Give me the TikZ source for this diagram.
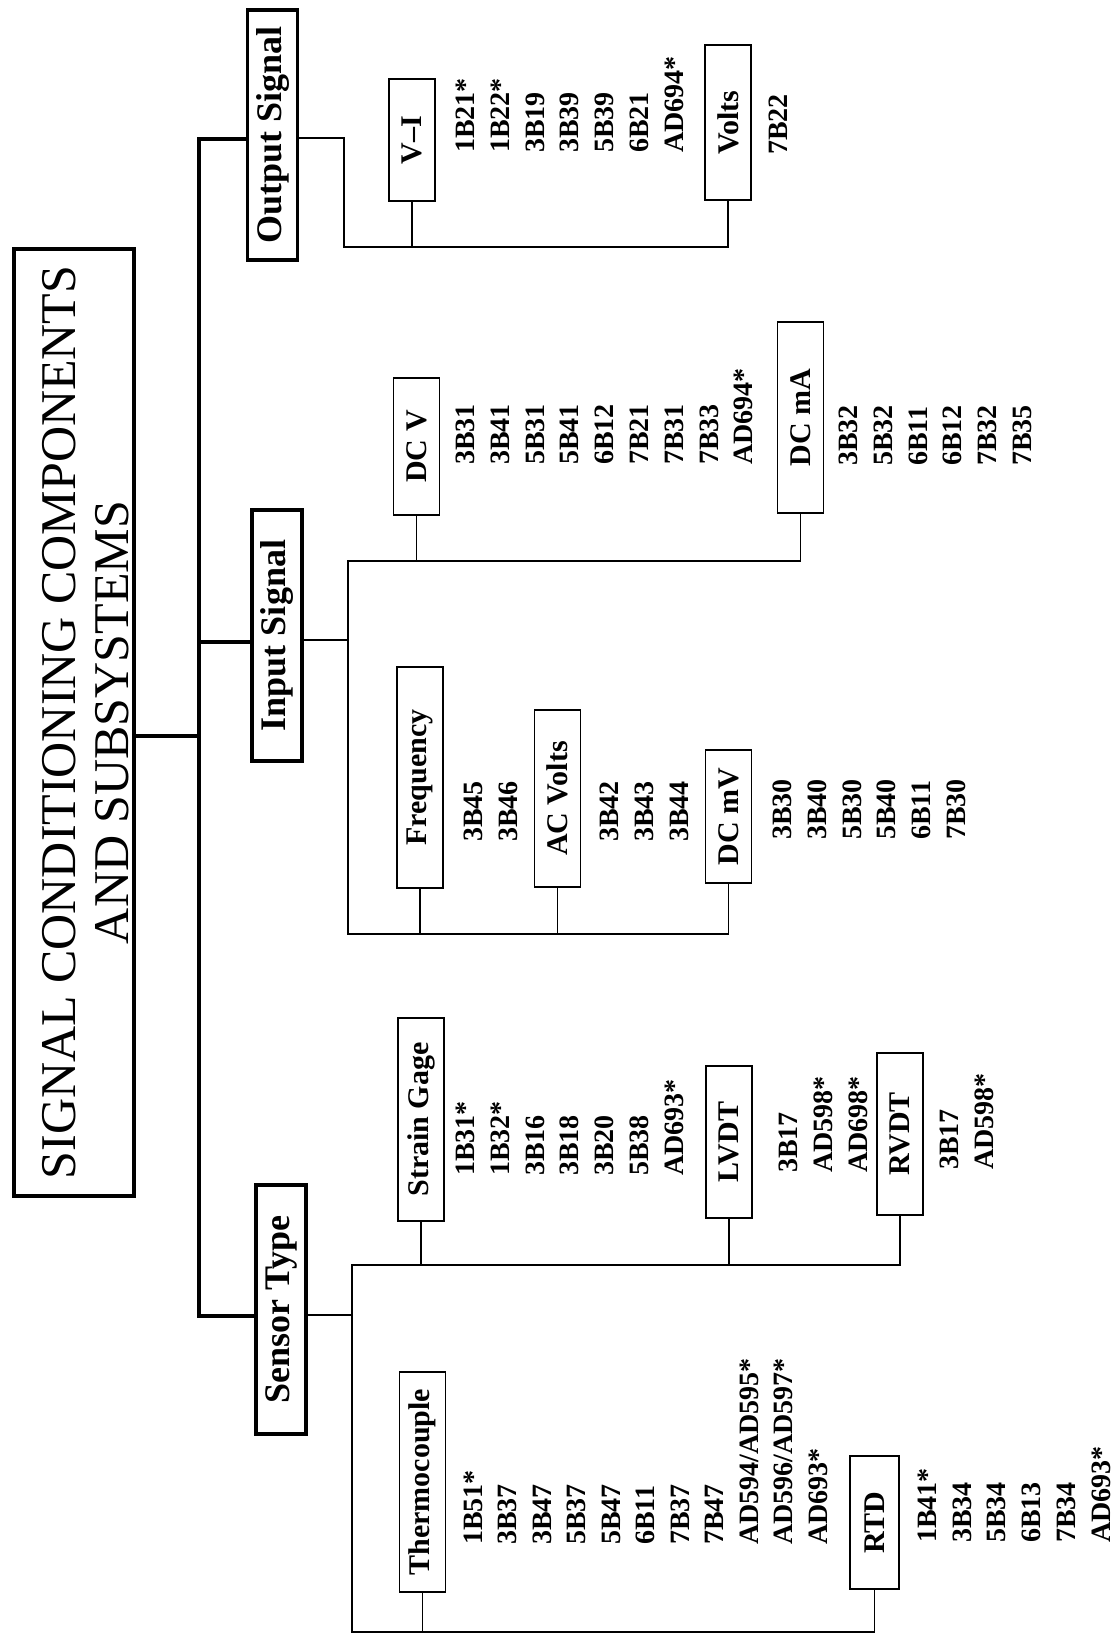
\documentclass[tikz,border=0pt]{standalone}
\usepackage{fontspec}
\setmainfont{Liberation Serif}
\tikzset{
  thk/.style={line width=4pt},
  thn/.style={line width=1.8pt},
  titlebox/.style={draw, line width=4pt, rotate=90, inner sep=0pt, align=center,
    font=\fontsize{50}{53}\selectfont},
  lvone/.style={draw, line width=3.5pt, rotate=90, inner sep=0pt, minimum height=50pt,
    font=\fontsize{36}{40}\selectfont\bfseries},
  lvtwo/.style={draw, line width=1.8pt, rotate=90, inner sep=0pt, minimum height=46pt,
    font=\fontsize{30}{34}\selectfont\bfseries},
  partlist/.style={rotate=90, anchor=north west, inner sep=0pt, align=left,
    font=\fontsize{28}{34.8}\selectfont\bfseries},
}
\begin{document}
\begin{tikzpicture}[x=1pt, y=-1pt]
\fill[white] (0,0) rectangle (1115,1635);
\useasboundingbox (0,0) rectangle (1115,1635);

% title
\node[titlebox, minimum width=947pt, minimum height=120pt, text height=108pt, text depth=0pt] (title) at (74,722.5)
  {SIGNAL CONDITIONING COMPONENTS\\AND SUBSYSTEMS};

% first level
\node[lvone, minimum width=250pt] (out) at (272.5,135) {Output Signal};
\node[lvone, minimum width=251pt] (inp) at (277,635.5) {Input Signal};
\node[lvone, minimum width=249pt] (sen) at (281,1309.5) {Sensor Type};

% second level
\node[lvtwo, minimum width=122pt] (vi) at (412,140) {V--I};
\node[lvtwo, minimum width=155pt] (volts) at (728,122.5) {Volts};
\node[lvtwo, minimum width=137pt] (dcv) at (416.5,446.5) {DC V};
\node[lvtwo, minimum width=191pt] (dcma) at (800.5,417.5) {DC mA};
\node[lvtwo, minimum width=221pt] (freq) at (420,777.5) {Frequency};
\node[lvtwo, minimum width=177pt] (acv) at (557.5,798.5) {AC Volts};
\node[lvtwo, minimum width=133pt] (dcmv) at (728.5,816.5) {DC mV};
\node[lvtwo, minimum width=203pt] (sg) at (421,1119.5) {Strain Gage};
\node[lvtwo, minimum width=152pt] (lvdt) at (729,1142) {LVDT};
\node[lvtwo, minimum width=162pt] (rvdt) at (900,1134) {RVDT};
\node[lvtwo, minimum width=220pt] (tc) at (422.5,1482) {Thermocouple};
\node[lvtwo, minimum width=133pt, minimum height=49pt] (rtd) at (874.5,1522.5) {RTD};

% lists
\node[partlist] (livi) at (455.7,153) {1B21*\\1B22*\\3B19\\3B39\\5B39\\6B21\\AD694*};
\node[partlist] (livolts) at (768.7,155) {7B22};
\node[partlist] (lidcv) at (455.7,465) {3B31\\3B41\\5B31\\5B41\\6B12\\7B21\\7B31\\7B33\\AD694*};
\node[partlist] (lidcma) at (838.7,466) {3B32\\5B32\\6B11\\6B12\\7B32\\7B35};
\node[partlist] (lifreq) at (463.7,842) {3B45\\3B46};
\node[partlist] (liacv) at (599.7,842) {3B42\\3B43\\3B44};
\node[partlist] (lidcmv) at (772.7,840) {3B30\\3B40\\5B30\\5B40\\6B11\\7B30};
\node[partlist] (lisg) at (455.7,1176) {1B31*\\1B32*\\3B16\\3B18\\3B20\\5B38\\AD693*};
\node[partlist] (lilvdt) at (778.7,1173) {3B17\\AD598*\\AD698*};
\node[partlist] (lirvdt) at (939.7,1170) {3B17\\AD598*};
\node[partlist, font=\fontsize{28}{34.5}\selectfont\bfseries] (litc) at (463.7,1545)
  {1B51*\\3B37\\3B47\\5B37\\5B47\\6B11\\7B37\\7B47\\AD594/AD595*\\AD596/AD597*\\AD693*};
\node[partlist, font=\fontsize{28}{34.8}\selectfont\bfseries] (lirtd) at (917.7,1543)
  {1B41*\\3B34\\5B34\\6B13\\7B34\\AD693*};

% trunk
\coordinate (j1) at (199,139);
\coordinate (j2) at (199,642);
\coordinate (j3) at (199,1316);
\coordinate (j0) at (199,736);
\draw[thk] (out.north |- j1) -- (j1) -- (j3) -- (sen.north |- j3);
\draw[thk] (j2) -- (inp.north |- j2);
\draw[thk] (title.south |- j0) -- (j0);

% output subtree
\coordinate (oa) at (344,138);
\coordinate (ob) at (344,247);
\draw[thn] (out.south |- oa) -- (oa) -- (ob) -| (volts.west);
\draw[thn] (vi.west) -- (vi.west |- ob);

% input subtree
\coordinate (ia) at (348,640);
\coordinate (ib) at (348,561);
\coordinate (ic) at (348,934);
\draw[thn] (inp.south |- ia) -- (ia);
\draw[thn] (dcma.west) |- (ib) -- (ic) -| (dcmv.west);
\draw[thn] (dcv.west) -- (dcv.west |- ib);
\draw[thn] (freq.west) -- (freq.west |- ic);
\draw[thn] (acv.west) -- (acv.west |- ic);

% sensor subtree
\coordinate (sa) at (352,1315);
\coordinate (sb) at (352,1265);
\coordinate (sc) at (352,1632);
\draw[thn] (sen.south |- sa) -- (sa);
\draw[thn] (rvdt.west) |- (sb) -- (sc) -| (rtd.west);
\draw[thn] (sg.west) -- (sg.west |- sb);
\draw[thn] (lvdt.west) -- (lvdt.west |- sb);
\draw[thn] (tc.west) -- (tc.west |- sc);
\end{tikzpicture}
\end{document}
